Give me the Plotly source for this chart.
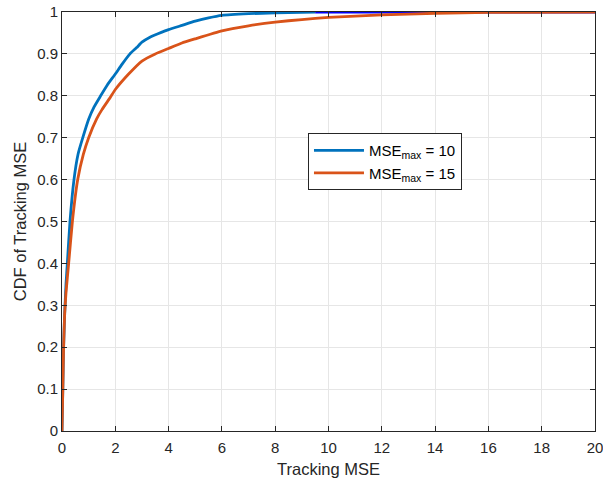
import plotly.graph_objects as go

# Series: MSE_max = 10
x_mse10 = [0, 0.03, 0.06, 0.1, 0.15, 0.2, 0.3, 0.45, 0.6, 0.78, 1.0, 1.2, 1.45, 1.7, 2.0, 2.25, 2.55, 2.8, 3.0, 3.3, 3.6, 4.0, 4.5, 5.0, 5.5, 6.0, 7.0, 8.0, 9.5]
y_mse10 = [0, 0.1, 0.2, 0.28, 0.35, 0.4, 0.5, 0.6, 0.66, 0.7, 0.744, 0.773, 0.8, 0.826, 0.852, 0.875, 0.9, 0.915, 0.928, 0.94, 0.948, 0.958, 0.968, 0.978, 0.986, 0.992, 0.996, 0.998, 1.0]

# Extension of the first series drawn in pure blue
x_ext = [9.5, 20]
y_ext = [1.0, 1.0]

# Series: MSE_max = 15
x_mse15 = [0, 0.03, 0.06, 0.1, 0.15, 0.25, 0.39, 0.59, 0.8, 1.0, 1.3, 1.5, 1.8, 2.0, 2.5, 3.0, 3.5, 4.0, 4.5, 5.0, 6.0, 7.0, 8.0, 9.0, 10.0, 12.0, 14.0, 16.0, 20.0]
y_mse15 = [0, 0.1, 0.2, 0.28, 0.33, 0.4, 0.5, 0.6, 0.66, 0.7, 0.745, 0.767, 0.795, 0.815, 0.852, 0.883, 0.9, 0.913, 0.926, 0.936, 0.955, 0.967, 0.976, 0.982, 0.987, 0.993, 0.997, 0.999, 1.0]

x_ticks = [0, 2, 4, 6, 8, 10, 12, 14, 16, 18, 20]
y_ticks = [0, 0.1, 0.2, 0.3, 0.4, 0.5, 0.6, 0.7, 0.8, 0.9, 1]
y_tick_labels = ["0", "0.1", "0.2", "0.3", "0.4", "0.5", "0.6", "0.7", "0.8", "0.9", "1"]

fig = go.Figure()
fig.add_trace(go.Scatter(x=x_mse10, y=y_mse10, mode="lines", name="MSE<sub>max</sub> = 10",
                         line=dict(color="#0072BD", width=2.8, shape="spline", smoothing=0.4)))
fig.add_trace(go.Scatter(x=x_ext, y=y_ext, mode="lines", showlegend=False,
                         line=dict(color="#0000FF", width=2.8)))
fig.add_trace(go.Scatter(x=x_mse15, y=y_mse15, mode="lines", name="MSE<sub>max</sub> = 15",
                         line=dict(color="#D95319", width=2.8, shape="spline", smoothing=0.4)))

axis_common = dict(
    showline=True, linecolor="#262626", linewidth=1, mirror="ticks",
    ticks="inside", ticklen=5, tickcolor="#262626",
    showgrid=True, gridcolor="#e6e6e6", gridwidth=1, zeroline=False,
    tickfont=dict(family="Liberation Sans, Arial", size=15, color="#262626"),
    automargin=False, ticklabeloverflow="allow",
)

fig.update_layout(
    width=603, height=485,
    margin=dict(l=62, r=8, t=12, b=54),
    plot_bgcolor="white", paper_bgcolor="white",
    font=dict(family="Liberation Sans, Arial", color="#262626"),
    xaxis=dict(range=[0, 20], tickvals=x_ticks, ticktext=[str(v) for v in x_ticks],
               ticklabelstandoff=3,
               title=dict(text="Tracking MSE", font=dict(size=16.5, color="#262626"), standoff=8),
               **axis_common),
    yaxis=dict(range=[0, 1], tickvals=y_ticks, ticktext=y_tick_labels,
               title=dict(text="CDF of Tracking MSE", font=dict(size=16.5, color="#262626"), standoff=6),
               **axis_common),
    legend=dict(x=0.4615, y=0.711, xanchor="left", yanchor="top",
                bgcolor="white", bordercolor="#262626", borderwidth=1,
                font=dict(family="Liberation Sans, Arial", size=15, color="#000000"),
                itemwidth=50, tracegroupgap=0),
    showlegend=True,
)

fig.write_html("out.html", config={"displayModeBar": False},
               post_script="document.body.style.margin='0';")
